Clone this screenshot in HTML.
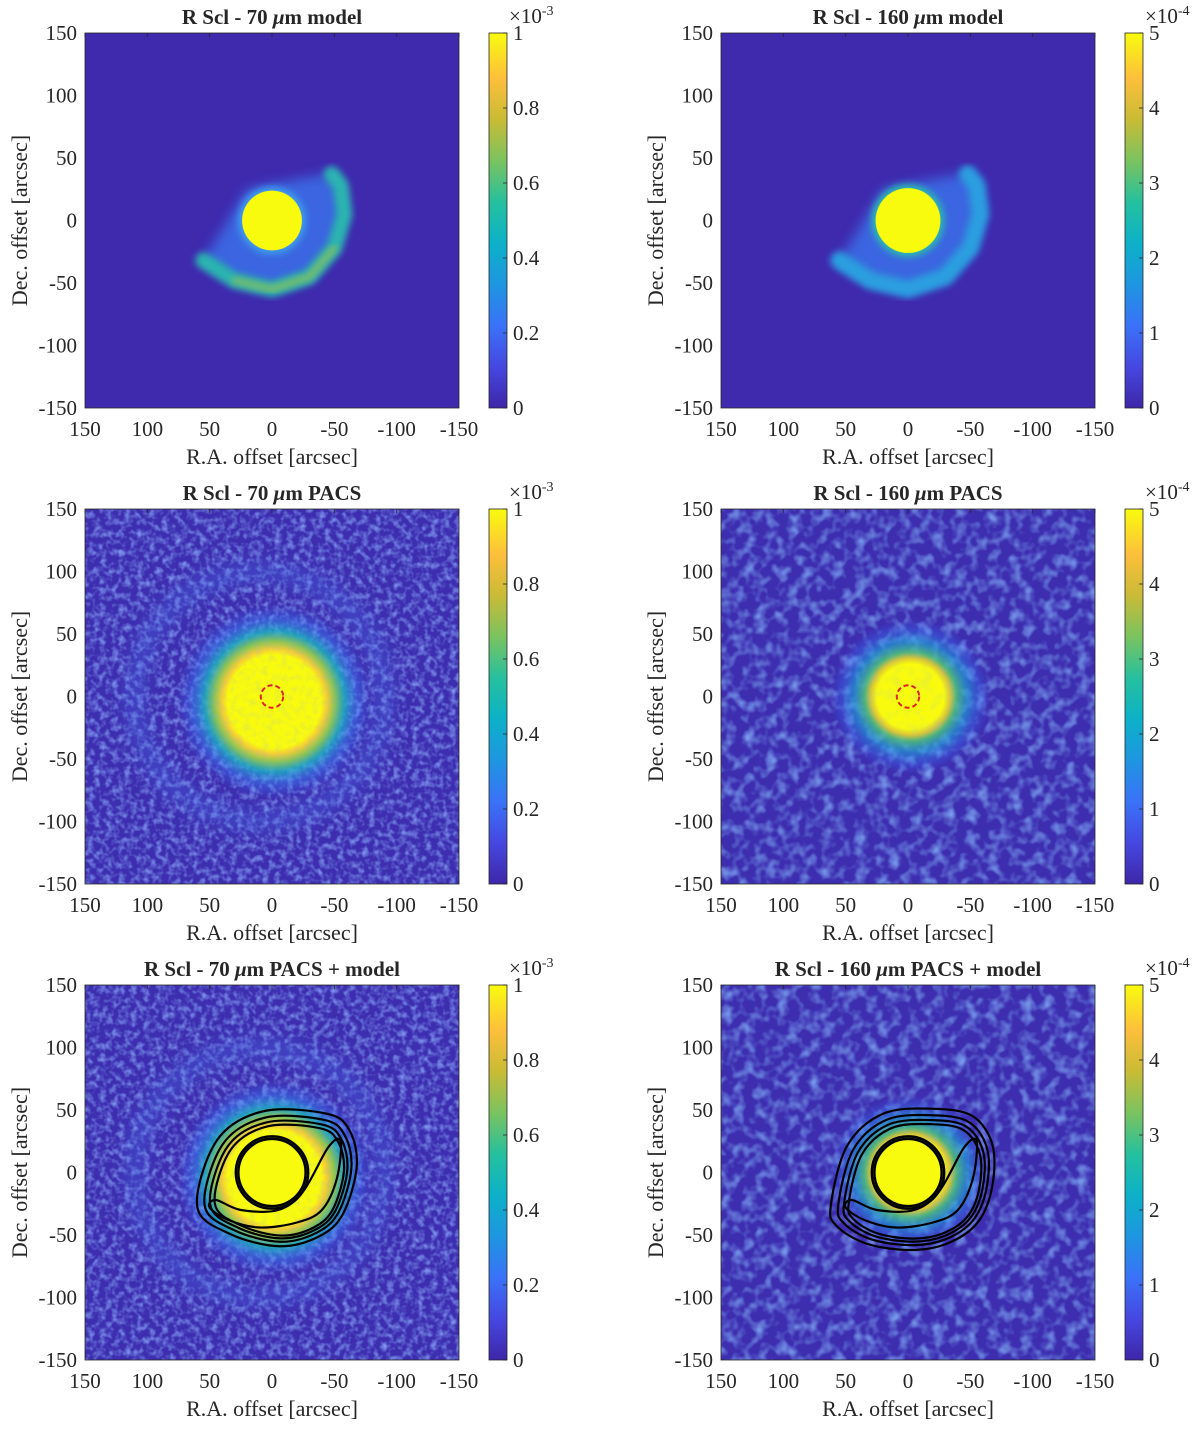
<!DOCTYPE html>
<html><head><meta charset="utf-8">
<style>
html,body{margin:0;padding:0;background:#fff;}
svg{display:block;}
text{font-family:"Liberation Serif",serif;fill:#262626;}
</style></head>
<body>
<svg id="fig" width="1200" height="1429" viewBox="0 0 1200 1429" xmlns="http://www.w3.org/2000/svg">
<defs>
<linearGradient id="parula" x1="0" y1="1" x2="0" y2="0">
<stop offset="0" stop-color="#3e26a8"/><stop offset="0.11" stop-color="#4648e0"/>
<stop offset="0.22" stop-color="#3a72f8"/><stop offset="0.33" stop-color="#1e96e0"/>
<stop offset="0.44" stop-color="#0db1c8"/><stop offset="0.55" stop-color="#26c09e"/>
<stop offset="0.66" stop-color="#7bc35f"/><stop offset="0.77" stop-color="#cabb36"/>
<stop offset="0.88" stop-color="#fdbf3c"/><stop offset="1" stop-color="#f9fb0e"/>
</linearGradient>
<radialGradient id="blob70">
<stop offset="0" stop-color="#f9fb0e"/><stop offset="0.48" stop-color="#f9fb0e"/>
<stop offset="0.54" stop-color="#f4cc38"/><stop offset="0.62" stop-color="#8cc454"/>
<stop offset="0.72" stop-color="#1cb0c0" stop-opacity="0.85"/><stop offset="0.85" stop-color="#3a7cf2" stop-opacity="0.5"/>
<stop offset="1" stop-color="#3a60f0" stop-opacity="0"/>
</radialGradient>
<radialGradient id="blob160">
<stop offset="0" stop-color="#f9fb0e"/><stop offset="0.42" stop-color="#f9fb0e"/>
<stop offset="0.5" stop-color="#d8c43a"/><stop offset="0.58" stop-color="#4cbe7c" stop-opacity="0.9"/>
<stop offset="0.72" stop-color="#1ea0d8" stop-opacity="0.65"/><stop offset="0.88" stop-color="#3a6cf2" stop-opacity="0.35"/>
<stop offset="1" stop-color="#3a60f0" stop-opacity="0"/>
</radialGradient>
<filter id="noise70" x="0" y="0" width="100%" height="100%">
<feTurbulence type="fractalNoise" baseFrequency="0.16" numOctaves="2" seed="3"/>
<feColorMatrix type="matrix" values="0 0 0 0 0.24  0 0 0 0 0.36  0 0 0 0 0.92  1.8 0 0 0 -0.75"/>
</filter>
<filter id="noise160" x="0" y="0" width="100%" height="100%">
<feTurbulence type="fractalNoise" baseFrequency="0.09" numOctaves="2" seed="9"/>
<feColorMatrix type="matrix" values="0 0 0 0 0.22  0 0 0 0 0.42  0 0 0 0 0.92  1.8 0 0 0 -0.78"/>
</filter>
<filter id="blur6"><feGaussianBlur stdDeviation="6"/></filter>
<filter id="blur3"><feGaussianBlur stdDeviation="3.5"/></filter>
</defs>
</svg>
<script>
// ---- data ----
const xTicks=[150,100,50,0,-50,-100,-150];
const yTicks=[150,100,50,0,-50,-100,-150];
const cbTicks70=[0,0.2,0.4,0.6,0.8,1];
const cbTicks160=[0,1,2,3,4,5];
const titles=["R Scl - 70 ","R Scl - 160 ","R Scl - 70 ","R Scl - 160 ","R Scl - 70 ","R Scl - 160 "];
const titleSuffix=["model","model","PACS","PACS","PACS + model","PACS + model"];
const coreRadius=[24,26,0,0,0,0];
const arcRa=[55,30,0,-30,-50,-58,-55,-48];
const arcDec=[-32,-48,-55,-45,-22,5,28,37];
const cont70Ra=[60,44,7,-44,-62,-68,-57,-38,-6,34];
const cont70Dec=[-27,26,49,47,34,5,-33,-51,-59,-49];
const cont160Ra=[62,49,20,-20,-52,-68,-67,-55,-31,-2,33,57];
const cont160Dec=[-27,21,47,51,45,21,-14,-41,-57,-62,-57,-43];
const cresRa=[50,35,10,-20,-40,-52,-55,-45,-25,-5,25,45];
const cresDec=[-28,-38,-44,-40,-30,-5,25,20,-15,-30,-30,-22];

const svg=document.getElementById('fig');
const NS="http://www.w3.org/2000/svg";
function mk(tag,attrs,parent){const e=document.createElementNS(NS,tag);for(const k in attrs)e.setAttribute(k,attrs[k]);(parent||svg).appendChild(e);return e;}
const W=374,H=375;
const lefts=[85,721],tops=[33,509,985];
function smooth(pts){let d="";const n=pts.length;
 for(let i=0;i<n;i++){const p0=pts[(i-1+n)%n],p1=pts[i],p2=pts[(i+1)%n],p3=pts[(i+2)%n];
  if(i===0)d+="M"+p1[0]+","+p1[1];
  d+=" C"+(p1[0]+(p2[0]-p0[0])/6)+","+(p1[1]+(p2[1]-p0[1])/6)+" "+(p2[0]-(p3[0]-p1[0])/6)+","+(p2[1]-(p3[1]-p1[1])/6)+" "+p2[0]+","+p2[1];}
 return d+"Z";}

for(let k=0;k<6;k++){
 const col=k%2,row=Math.floor(k/2);
 const x0=lefts[col],y0=tops[row];
 const xs=v=>x0+(150-v)/300*W, ys=v=>y0+(150-v)/300*H, sc=v=>v/300*W;
 const is70=col===0;
 const g=mk('g',{});
 
 
 const cp=mk('clipPath',{id:'cp'+k},g);mk('rect',{x:x0,y:y0,width:W,height:H},cp);
 const plot=mk('g',{'clip-path':'url(#cp'+k+')'},g);
 
 
 const bg=mk('rect',{x:x0,y:y0,width:W,height:H,fill:row===0?'#3f29ad':'#3d2eb0'},plot);
 
 
 const cx=xs(0),cy=ys(0);
 if(row===0){
  const arcPts=arcRa.map((r,i)=>[xs(r),ys(arcDec[i])]);
  const halo=mk('path',{d:"M"+arcPts.map(p=>p.join(",")).join(" L")+" L"+xs(-30)+","+ys(35)+" L"+xs(20)+","+ys(25)+"Z",fill:'#3a74ee',opacity:0.8,filter:'url(#blur6)'},plot);
  
  
  const arc=mk('path',{d:"M"+arcPts.map(p=>p.join(",")).join(" L"),fill:'none',stroke:is70?'#2ab4b0':'#2a9ee0','stroke-width':is70?16:18,'stroke-linecap':'round','stroke-linejoin':'round',filter:'url(#blur3)'},plot);
  
  
  if(is70){const a2=mk('path',{d:"M"+arcPts.slice(1,5).map(p=>p.join(",")).join(" L"),fill:'none',stroke:'#9cc04c','stroke-width':6,'stroke-linecap':'round',filter:'url(#blur3)',opacity:0.8},plot);
   
   }
  const ring=mk('circle',{cx:cx,cy:cy,r:sc(coreRadius[k])+4,fill:is70?'#3c9cec':'#2ab8b0',filter:'url(#blur3)'},plot);
  
  
  const core=mk('circle',{cx:cx,cy:cy,r:sc(coreRadius[k]),fill:'#f9fb0e'},plot);
  
  
 } else {
  const nz=mk('rect',{x:x0,y:y0,width:W,height:H,filter:is70?'url(#noise70)':'url(#noise160)'},plot);
  
  
  const faint=mk('circle',{cx:xs(10),cy:ys(0),r:sc(100),fill:'none',stroke:'#4a6ce8','stroke-width':22,opacity:is70?0.3:0,filter:'url(#blur6)'},plot);
  
  
  const bl=mk('ellipse',{cx:xs(is70?-2:-2),cy:ys(is70?-4:0),rx:sc(is70?78:64),ry:sc(is70?78:62),fill:is70?'url(#blob70)':'url(#blob160)'},plot);
  
  
  const nz2=mk('rect',{x:x0,y:y0,width:W,height:H,filter:is70?'url(#noise70)':'url(#noise160)',opacity:0.2},plot);
  
  
  if(row===1){
   const rc=mk('circle',{cx:cx,cy:cy,r:sc(9),fill:'none',stroke:'#e0202a','stroke-width':2,'stroke-dasharray':'5,3'},plot);
   
   
  } else {
   const raA=is70?cont70Ra:cont160Ra, deA=is70?cont70Dec:cont160Dec;
   const core=mk('circle',{cx:cx,cy:cy,r:sc(25),fill:'#f9fb0e'},plot);
   
   
   [1,0.92,0.86,0.81].forEach((s,j)=>{
    const pts=raA.map((r,i)=>[xs(-14+(r+14)*s),ys(-14+(deA[i]+14)*s)]);
    const p=mk('path',{d:smooth(pts),fill:'none',stroke:'#000','stroke-width':2.2},plot);
    
    
   });
   const cres=mk('path',{d:smooth(cresRa.map((r,i)=>[xs(r),ys(cresDec[i])])),fill:'none',stroke:'#000','stroke-width':2.2},plot);
   
   
   [27,29].forEach(r=>{const c=mk('circle',{cx:cx,cy:cy,r:sc(r),fill:'none',stroke:'#000','stroke-width':2.5},plot);
    
    });
  }
 }
 const fr=mk('rect',{x:x0,y:y0,width:W,height:H,fill:'none',stroke:'#262626','stroke-width':0.8},g);
 
 
 xTicks.forEach(v=>{const t=mk('text',{x:xs(v),y:y0+H+28,'text-anchor':'middle','font-size':21},g);t.textContent=v;
  
  
  const tl=mk('line',{x1:xs(v),x2:xs(v),y1:y0,y2:y0+4,stroke:'#262626','stroke-width':0.8},g);
  
  });
 yTicks.forEach(v=>{const t=mk('text',{x:x0-8,y:ys(v)+7,'text-anchor':'end','font-size':21},g);t.textContent=v;
  
  });
 const xl=mk('text',{x:x0+W/2,y:y0+H+56,'text-anchor':'middle','font-size':22},g);xl.textContent="R.A. offset [arcsec]";
 
 
 const yl=mk('text',{x:0,y:0,'text-anchor':'middle','font-size':22,transform:'translate('+(x0-58)+','+(y0+H/2)+') rotate(-90)'},g);yl.textContent="Dec. offset [arcsec]";
 
 
 const tt=mk('text',{x:x0+W/2,y:y0-9,'text-anchor':'middle','font-size':21,'font-weight':'bold',fill:'#000'},g);
 tt.appendChild(document.createTextNode(titles[k]));
 const mu=mk('tspan',{'font-style':'italic'},tt);mu.textContent="μ";
 tt.appendChild(document.createTextNode("m "+titleSuffix[k]));
 
 
 const cbx=x0+404,cbw=18;
 const cb=mk('rect',{x:cbx,y:y0,width:cbw,height:H,fill:'url(#parula)',stroke:'#262626','stroke-width':0.8},g);
 
 
 const ticks=is70?cbTicks70:cbTicks160, mx=ticks[ticks.length-1];
 ticks.forEach(v=>{const yy=y0+H-v/mx*H;
  const t=mk('text',{x:cbx+cbw+6,y:yy+7,'font-size':21},g);t.textContent=v;
  
  
  const l=mk('line',{x1:cbx+cbw-4,x2:cbx+cbw,y1:yy,y2:yy,stroke:'#262626','stroke-width':0.8},g);
  
  });
 const ex=mk('text',{x:cbx+20,y:y0-10,'font-size':21},g);
 ex.appendChild(document.createTextNode("×10"));
 const sp=mk('tspan',{'font-size':14,dy:-8},ex);sp.textContent=is70?"-3":"-4";
 
 
}
</script>
</body></html>
